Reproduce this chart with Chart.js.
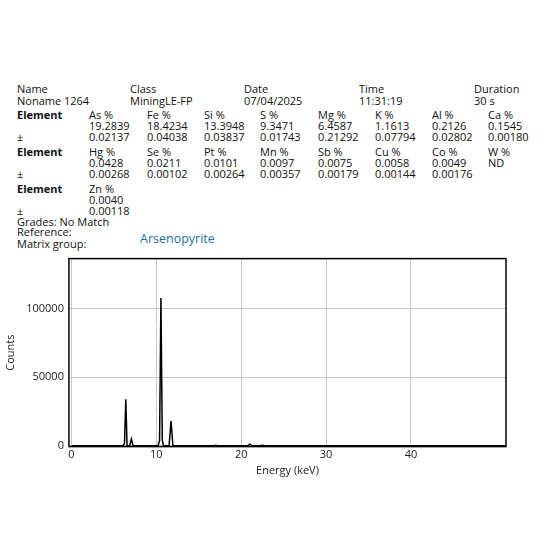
<!DOCTYPE html>
<html><head><meta charset="utf-8">
<script src="https://cdn.jsdelivr.net/npm/chart.js@4"></script>
<style>
body{margin:0;background:#fff;font-family:"Open Sans",sans-serif;font-size:11px;color:#111;}
#hdr div{position:absolute;white-space:nowrap;line-height:11px}
.b{font-weight:bold}
#wrap{position:absolute;left:0px;top:247px;width:538px;height:230px}
</style></head><body>
<div id="hdr"></div>
<div id="wrap"><canvas id="mycanvas"></canvas></div>
<script>
var headNames = ['Name','Class','Date','Time','Duration'];
var headValues = ['Noname 1264','MiningLE-FP','07/04/2025','11:31:19','30 s'];
var elements = [['As %','Fe %','Si %','S %','Mg %','K %','Al %','Ca %'],['Hg %','Se %','Pt %','Mn %','Sb %','Cu %','Co %','W %'],['Zn %']];
var percents = [['19.2839','18.4234','13.3948','9.3471','6.4587','1.1613','0.2126','0.1545'],['0.0428','0.0211','0.0101','0.0097','0.0075','0.0058','0.0049','ND'],['0.0040']];
var errors = [['0.02137','0.04038','0.03837','0.01743','0.21292','0.07794','0.02802','0.00180'],['0.00268','0.00102','0.00264','0.00357','0.00179','0.00144','0.00176',''],['0.00118']];

// spectrum points (keV, counts)
var energy = [0,6.1,6.25,6.4,6.55,6.85,7.06,7.25,10.2,10.38,10.54,10.7,10.85,11.5,11.73,11.95,16.8,17.0,17.2,20.7,21.0,21.3,22.2,22.5,22.8,51.2];
var counts = [0,0,2000,34000,0,0,5000,0,0,4000,108000,4000,0,0,18000,0,0,400,0,0,1200,0,0,300,0,0];

var h = document.getElementById('hdr');
function put(x,y,t,cls,color){var d=document.createElement('div');d.style.left=x+'px';d.style.top=y+'px';d.textContent=t;if(cls)d.className=cls;if(color)d.style.color=color;h.appendChild(d);return d;}
var hx=[17,130,244,359,474];
for(var i=0;i<5;i++){put(hx[i],83,headNames[i]);put(hx[i],95,headValues[i]);}
var cx=[89,147,204,260,318,375,432,488];
var ry=[109,146,183];
for(var r=0;r<3;r++){
  put(17,ry[r],'Element','b');
  put(17,ry[r]+22,'±');
  for(var c=0;c<elements[r].length;c++){
    put(cx[c],ry[r],elements[r][c]);
    put(cx[c],ry[r]+11,percents[r][c]);
    put(cx[c],ry[r]+22,errors[r][c]);
  }
}
put(17,216,'Grades: No Match');
put(17,226,'Reference:');
put(17,238,'Matrix group:');
put(140,233,'Arsenopyrite',null,'#1f6fa8').style.fontSize='12.5px';

var pts=[];
for(var i=0;i<energy.length;i++) pts.push({x:energy[i],y:counts[i]});

var frame={id:'frame',afterDraw:function(ch){var a=ch.chartArea,g=ch.ctx;g.save();g.strokeStyle='#000';g.lineWidth=1.5;g.strokeRect(a.left,a.top,a.right-a.left,a.bottom-a.top);g.restore();}};
new Chart(document.getElementById('mycanvas'),{
  type:'line',
  data:{datasets:[{data:pts,borderColor:'#000',borderWidth:1.5,pointRadius:0,tension:0}]},
  options:{animation:false,responsive:true,maintainAspectRatio:false,
    plugins:{legend:{display:false},tooltip:{enabled:false}},
    layout:{padding:{right:32,top:9}},
    scales:{
      x:{type:'linear',min:-0.3,max:51.2,afterBuildTicks:function(s){s.ticks=[0,10,20,30,40].map(function(v){return{value:v};});},
        grid:{color:'#c8c8c8',drawTicks:false},border:{display:false},
        ticks:{color:'#222',font:{family:'Open Sans',size:11},padding:2,maxRotation:0,callback:function(v){return String(v);}},
        title:{display:true,text:'Energy (keV)',color:'#222',font:{family:'Open Sans',size:11},padding:0}},
      y:{min:-600,max:136700,afterBuildTicks:function(s){s.ticks=[0,50000,100000].map(function(v){return{value:v};});},
        grid:{color:'#c8c8c8',drawTicks:false},border:{display:false},
        ticks:{color:'#222',font:{family:'Open Sans',size:11},padding:5,callback:function(v){return String(v);}},
        title:{display:true,text:'Counts',color:'#222',font:{family:'Open Sans',size:11}}}
    }},
  plugins:[frame]
});
</script>
</body></html>
